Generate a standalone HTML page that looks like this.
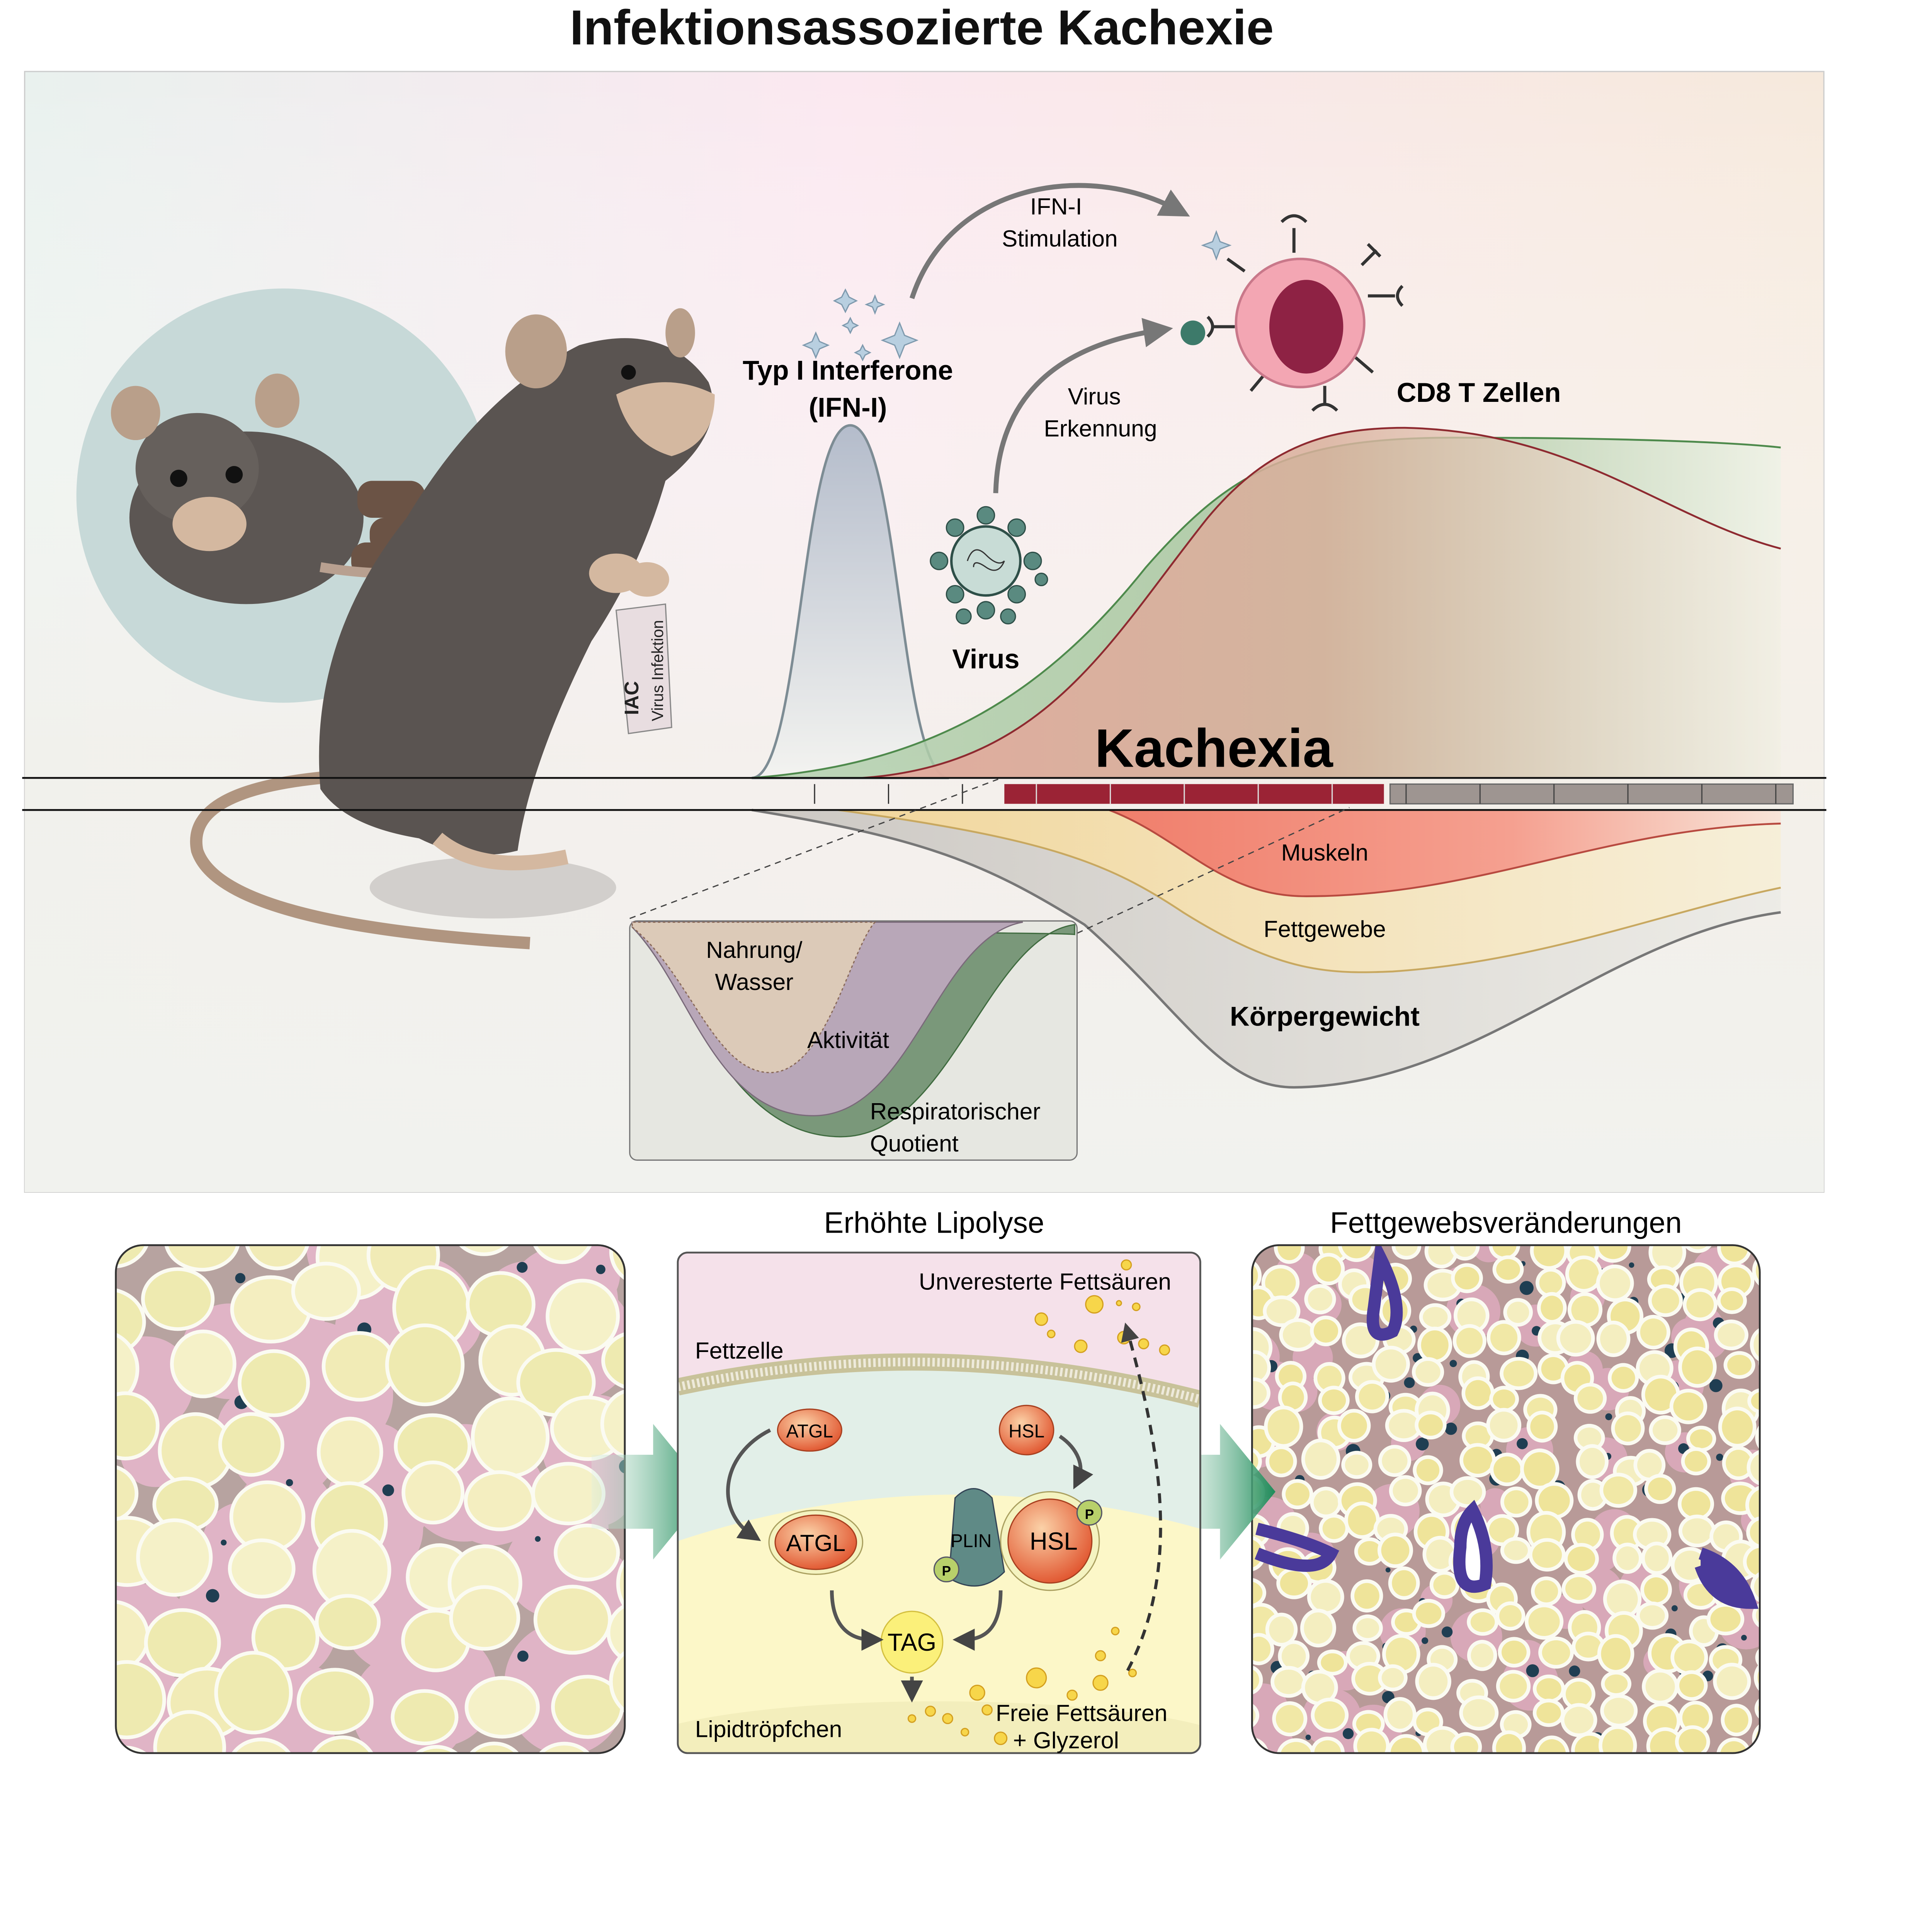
<!DOCTYPE html>
<html><head><meta charset="utf-8"><style>
html,body{margin:0;padding:0;background:#fff;overflow:hidden;width:5055px;height:5022px;}
svg{display:block;}
text{font-family:"Liberation Sans",sans-serif;}
</style></head><body>
<svg id="s" width="5055" height="5022" viewBox="0 0 1585 1574" preserveAspectRatio="none" xmlns="http://www.w3.org/2000/svg">
<defs>
<linearGradient id="bg" x1="0" y1="0" x2="1" y2="0">
<stop offset="0" stop-color="#e9f1ee"/><stop offset="0.45" stop-color="#fbe8f0"/><stop offset="1" stop-color="#f6e9dc"/></linearGradient>
<linearGradient id="bg2" x1="0" y1="0" x2="0" y2="1">
<stop offset="0" stop-color="#fff" stop-opacity="0"/><stop offset="0.6" stop-color="#f3f1ec" stop-opacity="0.8"/><stop offset="1" stop-color="#f1f2ee"/></linearGradient>
<linearGradient id="ifn" x1="0" y1="0" x2="0" y2="1"><stop offset="0" stop-color="#b4bccb"/><stop offset="1" stop-color="#f3f3f0"/></linearGradient>
<linearGradient id="gr" x1="0" y1="0" x2="1" y2="0"><stop offset="0" stop-color="#b5d1b0"/><stop offset="0.6" stop-color="#a3c49a"/><stop offset="1" stop-color="#eef2e6"/></linearGradient>
<linearGradient id="rd" x1="0" y1="0" x2="1" y2="0"><stop offset="0" stop-color="#e8a49a"/><stop offset="0.5" stop-color="#d9b09c"/><stop offset="1" stop-color="#f4ede2" stop-opacity="0.6"/></linearGradient>
<linearGradient id="mu" x1="0" y1="0" x2="1" y2="0"><stop offset="0" stop-color="#f07e6b"/><stop offset="0.6" stop-color="#f5a090"/><stop offset="1" stop-color="#f8e4d8"/></linearGradient>
<linearGradient id="fa" x1="0" y1="0" x2="1" y2="0"><stop offset="0" stop-color="#f3d79a"/><stop offset="1" stop-color="#f7efd8"/></linearGradient>
<linearGradient id="kg" x1="0" y1="0" x2="1" y2="0"><stop offset="0" stop-color="#c8c4bf"/><stop offset="1" stop-color="#ecebe6"/></linearGradient>
<linearGradient id="ar" x1="0" y1="0" x2="1" y2="0"><stop offset="0" stop-color="#d8ede2" stop-opacity="0.3"/><stop offset="1" stop-color="#1e8c5a"/></linearGradient>
<radialGradient id="enz" cx="0.4" cy="0.35" r="0.7"><stop offset="0" stop-color="#fbd2a8"/><stop offset="1" stop-color="#e0522c"/></radialGradient>
<clipPath id="c1"><rect x="94" y="1010" width="413" height="412" rx="22"/></clipPath>
<clipPath id="c3"><rect x="1016" y="1010" width="412" height="412" rx="22"/></clipPath>
<clipPath id="c2"><rect x="550" y="1016" width="424" height="406" rx="8"/></clipPath>
<marker id="ah" markerWidth="6" markerHeight="6" refX="3" refY="3" orient="auto"><path d="M0,0 L6,3 L0,6 Z" fill="#777"/></marker>
<marker id="ahd" markerWidth="6" markerHeight="6" refX="3" refY="3" orient="auto"><path d="M0,0 L6,3 L0,6 Z" fill="#444"/></marker>
</defs>
<text x="748" y="36" font-size="40" font-weight="bold" text-anchor="middle" fill="#111">Infektionsassozierte Kachexie</text>
<rect x="20" y="58" width="1460" height="909" fill="url(#bg)" stroke="#ccc"/>
<rect x="20" y="58" width="1460" height="909" fill="url(#bg2)"/>
<circle cx="230" cy="402" r="168" fill="#c7d9d8"/>
<!-- small mouse -->
<ellipse cx="200" cy="420" rx="95" ry="70" fill="#5c5653"/>
<ellipse cx="160" cy="380" rx="50" ry="45" fill="#66605c"/>
<ellipse cx="110" cy="335" rx="20" ry="22" fill="#b99f8a"/><ellipse cx="225" cy="325" rx="18" ry="22" fill="#b99f8a"/>
<ellipse cx="170" cy="425" rx="30" ry="22" fill="#d4b8a0"/>
<circle cx="145" cy="388" r="7" fill="#111"/><circle cx="190" cy="385" r="7" fill="#111"/>
<g fill="#6b5345"><rect x="290" y="390" width="55" height="30" rx="12"/><rect x="300" y="420" width="60" height="28" rx="12"/><rect x="285" y="440" width="50" height="28" rx="12"/><rect x="288" y="488" width="28" height="25" rx="8"/></g>
<path d="M260,460 Q320,470 370,460" stroke="#b8a090" stroke-width="8" fill="none"/>
<!-- big mouse -->
<ellipse cx="400" cy="720" rx="100" ry="25" fill="#bdb9b6" opacity="0.6"/>
<path d="M270,630 Q150,640 160,690 Q180,750 430,765" stroke="#b09580" stroke-width="10" fill="none"/>
<path d="M260,640 Q250,520 330,420 Q390,320 470,280 Q540,260 575,310 Q590,350 540,390 Q520,460 480,520 Q430,620 420,690 Q380,700 340,680 Q280,670 260,640 Z" fill="#5a5451"/>
<ellipse cx="435" cy="285" rx="25" ry="30" fill="#b99f8a"/><ellipse cx="552" cy="270" rx="12" ry="20" fill="#b99f8a"/>
<path d="M500,320 Q540,300 580,320 Q580,360 545,370 Q510,360 500,320Z" fill="#d4b8a0"/>
<circle cx="510" cy="302" r="6" fill="#111"/>
<ellipse cx="500" cy="465" rx="22" ry="16" fill="#d4b8a0"/><ellipse cx="525" cy="470" rx="18" ry="14" fill="#d4b8a0"/>
<path d="M355,680 Q390,710 460,695" stroke="#d4b8a0" stroke-width="12" fill="none"/>
<path d="M500,495 L540,490 L545,590 L510,595 Z" fill="#e8dde0" stroke="#888"/>
<text transform="translate(538,585) rotate(-90)" font-size="13" fill="#222">Virus Infektion</text>
<text transform="translate(518,580) rotate(-90)" font-size="16" font-weight="bold" fill="#222">IAC</text>
<!-- interferon peak -->
<path d="M610,631 C650,631 650,345 690,345 C730,345 730,631 770,631 Z" fill="url(#ifn)" stroke="#7d8c94" stroke-width="2"/>
<g fill="#b8cfe0" stroke="#7f9aae" stroke-width="1">
<path d="M730,262 l4,10 10,4 -10,4 -4,10 -4,-10 -10,-4 10,-4z"/>
<path d="M686,235 l3,6 6,3 -6,3 -3,6 -3,-6 -6,-3 6,-3z"/><path d="M710,240 l2,5 5,2 -5,2 -2,5 -2,-5 -5,-2 5,-2z"/>
<path d="M690,258 l2,4 4,2 -4,2 -2,4 -2,-4 -4,-2 4,-2z"/><path d="M662,270 l3,7 7,3 -7,3 -3,7 -3,-7 -7,-3 7,-3z"/>
<path d="M700,280 l2,4 4,2 -4,2 -2,4 -2,-4 -4,-2 4,-2z"/><path d="M987,188 l3,8 8,3 -8,3 -3,8 -3,-8 -8,-3 8,-3z"/></g>
<text x="688" y="308" font-size="22" font-weight="bold" text-anchor="middle">Typ I Interferone</text>
<text x="688" y="338" font-size="22" font-weight="bold" text-anchor="middle">(IFN-I)</text>
<!-- curves top -->
<path d="M610,631 C760,620 850,560 930,460 C1000,380 1050,355 1180,355 C1300,355 1400,358 1445,363 L1445,631 Z" fill="url(#gr)" opacity="0.85"/>
<path d="M610,631 C760,620 850,560 930,460 C1000,380 1050,355 1180,355 C1300,355 1400,358 1445,363" fill="none" stroke="#4e8a4c" stroke-width="1.5"/>
<path d="M700,631 C850,620 900,520 980,420 C1030,360 1080,347 1140,347 C1280,350 1350,420 1445,445 L1445,631 Z" fill="url(#rd)" opacity="0.85"/>
<path d="M700,631 C850,620 900,520 980,420 C1030,360 1080,347 1140,347 C1280,350 1350,420 1445,445" fill="none" stroke="#8e2a30" stroke-width="1.5"/>
<text x="985" y="622" font-size="44" font-weight="bold" text-anchor="middle">Kachexia</text>
<!-- bottom curves -->
<path d="M610,657 C750,680 800,700 880,750 C960,820 990,882 1050,882 C1200,880 1300,760 1445,740 L1445,657 Z" fill="url(#kg)" opacity="0.9"/>
<path d="M610,657 C750,680 800,700 880,750 C960,820 990,882 1050,882 C1200,880 1300,760 1445,740" fill="none" stroke="#777" stroke-width="2"/>
<path d="M680,657 C850,680 900,700 960,740 C1040,790 1080,790 1130,788 C1250,780 1350,740 1445,720 L1445,657 Z" fill="url(#fa)" opacity="0.95"/>
<path d="M680,657 C850,680 900,700 960,740 C1040,790 1080,790 1130,788 C1250,780 1350,740 1445,720" fill="none" stroke="#c8a860" stroke-width="1.5"/>
<path d="M900,657 C960,680 990,727 1060,727 C1200,727 1300,672 1445,668 L1445,657 Z" fill="url(#mu)"/>
<path d="M900,657 C960,680 990,727 1060,727 C1200,727 1300,672 1445,668" fill="none" stroke="#b84a40" stroke-width="1.5"/>
<line x1="18" y1="631" x2="1482" y2="631" stroke="#111" stroke-width="1.5"/>
<line x1="18" y1="657" x2="1482" y2="657" stroke="#111" stroke-width="1.5"/>
<g stroke="#333" stroke-width="1"><line x1="661" y1="636" x2="661" y2="652"/><line x1="721" y1="636" x2="721" y2="652"/><line x1="781" y1="636" x2="781" y2="652"/></g>
<rect x="815" y="636" width="308" height="16" fill="#9b2335"/>
<rect x="1128" y="636" width="327" height="16" fill="#9e9591" stroke="#666"/>
<g stroke="#ddd" stroke-width="1"><line x1="841" y1="636" x2="841" y2="652"/><line x1="901" y1="636" x2="901" y2="652"/><line x1="961" y1="636" x2="961" y2="652"/><line x1="1021" y1="636" x2="1021" y2="652"/><line x1="1081" y1="636" x2="1081" y2="652"/></g>
<g stroke="#444" stroke-width="1"><line x1="1141" y1="636" x2="1141" y2="652"/><line x1="1201" y1="636" x2="1201" y2="652"/><line x1="1261" y1="636" x2="1261" y2="652"/><line x1="1321" y1="636" x2="1321" y2="652"/><line x1="1381" y1="636" x2="1381" y2="652"/><line x1="1441" y1="636" x2="1441" y2="652"/></g>
<text x="1075" y="698" font-size="19" text-anchor="middle">Muskeln</text>
<text x="1075" y="760" font-size="19" text-anchor="middle">Fettgewebe</text>
<text x="1075" y="832" font-size="22" font-weight="bold" text-anchor="middle">Körpergewicht</text>
<line x1="511" y1="745" x2="810" y2="632" stroke="#444" stroke-dasharray="5,4"/>
<line x1="874" y1="757" x2="1095" y2="655" stroke="#444" stroke-dasharray="5,4"/>
<rect x="511" y="747" width="363" height="194" rx="6" fill="#e6e7e1" stroke="#777"/>
<path d="M513,752 C560,800 590,920 680,922 C770,925 800,760 872,750 L872,758 C860,756 513,756 513,752Z" fill="#7a987a" stroke="#3f6b3f"/>
<path d="M513,752 C560,800 580,905 660,905 C740,905 760,760 830,748 L513,748Z" fill="#b8a7b8" stroke="#7a6a7a"/>
<path d="M513,752 C560,790 580,870 625,870 C670,870 690,770 710,748 L513,748Z" fill="#dccab8" stroke="#8a6a5a" stroke-dasharray="2,2"/>
<text x="612" y="777" font-size="19" text-anchor="middle">Nahrung/</text>
<text x="612" y="803" font-size="19" text-anchor="middle">Wasser</text>
<text x="655" y="850" font-size="19">Aktivität</text>
<text x="706" y="908" font-size="19">Respiratorischer</text>
<text x="706" y="934" font-size="19">Quotient</text>
<!-- virus -->
<g fill="#5a8a80" stroke="#2e4f48"><circle cx="800" cy="418" r="7"/><circle cx="825" cy="428" r="7"/><circle cx="838" cy="455" r="7"/><circle cx="825" cy="482" r="7"/><circle cx="800" cy="495" r="7"/><circle cx="775" cy="482" r="7"/><circle cx="762" cy="455" r="7"/><circle cx="775" cy="428" r="7"/><circle cx="818" cy="500" r="6"/><circle cx="782" cy="500" r="6"/><circle cx="845" cy="470" r="5"/></g>
<circle cx="800" cy="455" r="28" fill="#c8dcd6" stroke="#2e4f48" stroke-width="2"/>
<path d="M785,455 q5,-15 15,-5 t15,5 q-5,12 -15,5 t-10,0" fill="none" stroke="#333"/>
<text x="800" y="542" font-size="22" font-weight="bold" text-anchor="middle">Virus</text>
<path d="M808,400 C810,320 860,280 940,268" fill="none" stroke="#777" stroke-width="4" marker-end="url(#ah)"/>
<text x="888" y="328" font-size="19" text-anchor="middle">Virus</text>
<text x="893" y="354" font-size="19" text-anchor="middle">Erkennung</text>
<path d="M740,242 C770,150 880,130 955,170" fill="none" stroke="#777" stroke-width="4" marker-end="url(#ah)"/>
<text x="857" y="174" font-size="19" text-anchor="middle">IFN-I</text>
<text x="860" y="200" font-size="19" text-anchor="middle">Stimulation</text>
<!-- CD8 cell -->
<g stroke="#333" stroke-width="2.5" fill="none">
<path d="M1050,205 v-20 M1040,180 q10,-10 20,0"/><path d="M1105,215 l12,-12 M1110,198 l10,10"/>
<path d="M1110,240 h22 M1138,232 q-8,8 0,16"/><path d="M1100,290 l14,12"/><path d="M1075,313 v15 M1065,333 q10,-10 20,0"/>
<path d="M1025,305 l-10,12"/><path d="M1002,265 h-18 M980,257 q8,8 0,16"/><path d="M1010,220 l-14,-10"/></g>
<circle cx="968" cy="270" r="10" fill="#3d7a6a"/>
<circle cx="1055" cy="262" r="52" fill="#f3a6b3" stroke="#c9788a" stroke-width="2"/>
<ellipse cx="1060" cy="265" rx="30" ry="38" fill="#8e2244"/>
<text x="1200" y="326" font-size="22" font-weight="bold" text-anchor="middle">CD8 T Zellen</text>
<!-- bottom panels -->
<rect x="94" y="1010" width="413" height="412" rx="22" fill="#b7a3a0"/>
<g id="cellsL" clip-path="url(#c1)"></g>
<rect x="94" y="1010" width="413" height="412" rx="22" fill="none" stroke="#333" stroke-width="1.5"/>
<rect x="1016" y="1010" width="412" height="412" rx="22" fill="#b89a98"/>
<g id="cellsR" clip-path="url(#c3)"></g>
<rect x="1016" y="1010" width="412" height="412" rx="22" fill="none" stroke="#333" stroke-width="1.5"/>
<path d="M480,1180 h50 v-25 l45,55 -45,55 v-25 h-50z" fill="url(#ar)"/>
<path d="M945,1180 h45 v-25 l45,55 -45,55 v-25 h-45z" fill="url(#ar)"/>
<text x="758" y="1000" font-size="24" text-anchor="middle">Erhöhte Lipolyse</text>
<text x="1222" y="1000" font-size="24" text-anchor="middle">Fettgewebsveränderungen</text>
<g clip-path="url(#c2)">
<rect x="550" y="1016" width="424" height="406" fill="#e2efe8"/>
<path d="M550,1016 H974 V1135 Q760,1080 550,1125Z" fill="#f5e1ea"/>
<path d="M550,1125 Q760,1080 974,1135" fill="none" stroke="#c8c29a" stroke-width="14"/>
<path d="M550,1125 Q760,1080 974,1135" fill="none" stroke="#eeeadb" stroke-width="7" stroke-dasharray="2,2"/>
<path d="M550,1250 Q760,1180 974,1240 V1422 H550Z" fill="#fcf7c8"/>
<ellipse cx="760" cy="1420" rx="250" ry="40" fill="#f3eebc"/>
</g>
<rect x="550" y="1016" width="424" height="406" rx="8" fill="none" stroke="#555" stroke-width="1.5"/>
<text x="848" y="1046" font-size="19" text-anchor="middle">Unveresterte Fettsäuren</text>
<text x="564" y="1102" font-size="19">Fettzelle</text>
<text x="564" y="1409" font-size="19">Lipidtröpfchen</text>
<text x="808" y="1396" font-size="19">Freie Fettsäuren</text>
<text x="822" y="1418" font-size="19">+ Glyzerol</text>
<g fill="#f7d64a" stroke="#d4a020" stroke-width="1"><circle cx="888" cy="1058" r="7"/><circle cx="845" cy="1070" r="5"/><circle cx="912" cy="1085" r="5"/><circle cx="928" cy="1090" r="4"/><circle cx="877" cy="1092" r="5"/><circle cx="945" cy="1095" r="4"/><circle cx="914" cy="1026" r="4"/><circle cx="922" cy="1060" r="3"/><circle cx="853" cy="1082" r="3"/><circle cx="908" cy="1057" r="2"/>
<circle cx="841" cy="1361" r="8"/><circle cx="793" cy="1373" r="6"/><circle cx="893" cy="1365" r="6"/><circle cx="870" cy="1375" r="4"/><circle cx="801" cy="1387" r="4"/><circle cx="755" cy="1388" r="4"/><circle cx="740" cy="1394" r="3"/><circle cx="812" cy="1410" r="5"/><circle cx="783" cy="1405" r="3"/><circle cx="893" cy="1343" r="4"/><circle cx="905" cy="1323" r="3"/><circle cx="919" cy="1357" r="3"/><circle cx="769" cy="1394" r="4"/></g>
<path d="M915,1355 C960,1270 940,1170 915,1080" fill="none" stroke="#333" stroke-width="2.5" stroke-dasharray="8,6" marker-end="url(#ahd)"/>
<ellipse cx="657" cy="1160" rx="26" ry="17" fill="url(#enz)" stroke="#a84020"/>
<text x="657" y="1166" font-size="15" text-anchor="middle">ATGL</text>
<path d="M625,1160 C585,1180 580,1225 610,1245" fill="none" stroke="#555" stroke-width="3" marker-end="url(#ahd)"/>
<ellipse cx="662" cy="1251" rx="38" ry="26" fill="#f4f3c0" stroke="#aaa060"/>
<ellipse cx="662" cy="1251" rx="33" ry="22" fill="url(#enz)" stroke="#a84020"/>
<text x="662" y="1258" font-size="19" text-anchor="middle">ATGL</text>
<ellipse cx="833" cy="1160" rx="22" ry="20" fill="url(#enz)" stroke="#a84020"/>
<text x="833" y="1166" font-size="15" text-anchor="middle">HSL</text>
<path d="M860,1165 C875,1175 880,1190 875,1200" fill="none" stroke="#555" stroke-width="3" marker-end="url(#ahd)"/>
<path d="M775,1215 Q790,1200 805,1215 L815,1275 Q795,1295 770,1280 Z" fill="#5f8a86" stroke="#345"/>
<text x="788" y="1255" font-size="15" text-anchor="middle">PLIN</text>
<circle cx="768" cy="1273" r="10" fill="#b8d06a" stroke="#556"/><text x="768" y="1278" font-size="11" font-weight="bold" text-anchor="middle">P</text>
<circle cx="852" cy="1250" r="40" fill="#f4f3c0" stroke="#aaa060"/>
<circle cx="852" cy="1250" r="34" fill="url(#enz)" stroke="#a84020"/>
<text x="855" y="1257" font-size="20" text-anchor="middle">HSL</text>
<circle cx="884" cy="1227" r="10" fill="#b8d06a" stroke="#556"/><text x="884" y="1232" font-size="11" font-weight="bold" text-anchor="middle">P</text>
<circle cx="740" cy="1332" r="25" fill="#fbf07a" stroke="#d4c040"/>
<text x="740" y="1339" font-size="20" text-anchor="middle">TAG</text>
<path d="M675,1290 C675,1320 690,1330 708,1330" fill="none" stroke="#555" stroke-width="3" marker-end="url(#ahd)"/>
<path d="M812,1290 C812,1320 800,1330 782,1330" fill="none" stroke="#555" stroke-width="3" marker-end="url(#ahd)"/>
<line x1="740" y1="1360" x2="740" y2="1372" stroke="#555" stroke-width="3" marker-end="url(#ahd)"/>
</svg>
<script>
(function(){
var seed=7;function r(){seed=(seed*16807)%2147483647;return seed/2147483647;}
function fill(g,x0,y0,w,h,step,rmin,rmax,cols,pink){
  var G=document.getElementById(g);
  var s='';
  for(var i=0;i<60;i++){s+='<circle cx="'+(x0+r()*w)+'" cy="'+(y0+r()*h)+'" r="'+(step*0.4+r()*step*0.4)+'" fill="'+pink+'"/>';}
  for(var y=y0;y<y0+h+step;y+=step*0.85){for(var x=x0;x<x0+w+step;x+=step){
    var cx=x+(r()-0.5)*step*0.5,cy=y+(r()-0.5)*step*0.5;
    var rx=rmin+r()*(rmax-rmin),ry=rx*(0.8+r()*0.3);
    if(r()<0.3) s+='<circle cx="'+(cx+step/2)+'" cy="'+(cy+step/2)+'" r="'+(2+r()*4)+'" fill="#1f3e52"/>';
    s+='<ellipse cx="'+cx+'" cy="'+cy+'" rx="'+(rx+3)+'" ry="'+(ry+3)+'" fill="#fbfbf2"/>';
    s+='<ellipse cx="'+cx+'" cy="'+cy+'" rx="'+rx+'" ry="'+ry+'" fill="'+cols[Math.floor(r()*cols.length)]+'"/>';
  }}
  G.innerHTML=s;
}
fill("cellsL",94,1010,413,412,62,22,30,["#f1ebb6","#f4eec0","#eeeab0","#f5f1c8"],"#e0b4c6");
fill("cellsR",1016,1010,412,412,30,9,13,["#f1e8a6","#f4eec0","#efe49a"],"#d8a8b8");
var G=document.getElementById("cellsR");
G.innerHTML+='<path d="M1120,1020 q20,40 10,60 q-20,10 -15,-20z" fill="none" stroke="#4a3a9a" stroke-width="10"/><path d="M1195,1225 q15,30 10,60 q-25,10 -20,-30 q0,-20 10,-30z" fill="#fff" stroke="#4a3a9a" stroke-width="10"/><path d="M1020,1240 q40,10 60,20 q-10,20 -60,0" fill="none" stroke="#4a3a9a" stroke-width="10"/><path d="M1380,1260 q30,10 40,40 q-30,0 -40,-30" fill="#4a3a9a" stroke="#4a3a9a" stroke-width="10"/>';
})();
</script>
</body></html>
